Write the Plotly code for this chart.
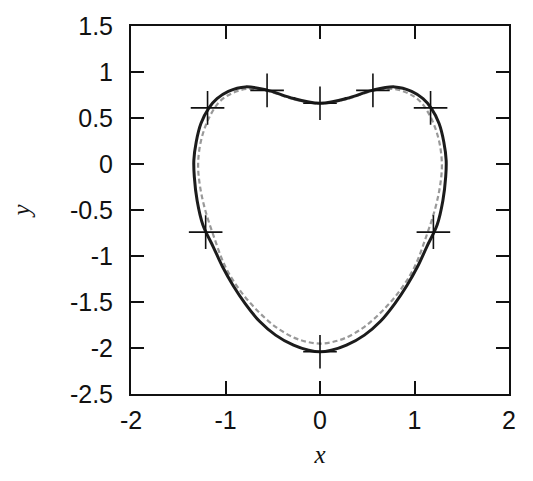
import plotly.graph_objects as go

# Closed contour (solid black), traced clockwise; the path wraps one point past
# its start so the spline joins smoothly at the top dimple
solid_x = [-0.28, 0.0, 0.28, 0.56, 0.79, 0.97, 1.09, 1.175, 1.26, 1.31, 1.335, 1.33, 1.30,
           1.24, 1.13, 1.03, 0.92, 0.79, 0.64, 0.47, 0.28, 0.12, 0.0,
           -0.12, -0.28, -0.47, -0.64, -0.79, -0.92, -1.03, -1.13, -1.24, -1.30, -1.33,
           -1.335, -1.31, -1.26, -1.175, -1.09, -0.97, -0.79, -0.56, -0.28, 0.0, 0.28]
solid_y = [0.712, 0.66, 0.712, 0.803, 0.838, 0.79, 0.71, 0.61, 0.44, 0.24, 0.04, -0.14, -0.40,
           -0.66, -0.90, -1.12, -1.32, -1.52, -1.71, -1.86, -1.97, -2.025, -2.042,
           -2.025, -1.97, -1.86, -1.71, -1.52, -1.32, -1.12, -0.90, -0.66, -0.40, -0.14,
           0.04, 0.24, 0.44, 0.61, 0.71, 0.79, 0.838, 0.803, 0.712, 0.66, 0.712]

# Second contour (grey dashed), slightly inside the first
dash_x = [-0.28, 0.0, 0.28, 0.56, 0.78, 0.94, 1.06, 1.15, 1.22, 1.27, 1.29, 1.27, 1.22, 1.12,
          1.0, 0.85, 0.67, 0.47, 0.27, 0.13, 0.0, -0.13, -0.27, -0.47, -0.67, -0.85,
          -1.0, -1.12, -1.22, -1.27, -1.29, -1.27, -1.22, -1.15, -1.06, -0.94, -0.78,
          -0.56, -0.28, 0.0, 0.28]
dash_y = [0.705, 0.655, 0.705, 0.795, 0.815, 0.765, 0.68, 0.55, 0.39, 0.20, -0.02, -0.24, -0.48, -0.80,
          -1.12, -1.37, -1.586, -1.77, -1.89, -1.935, -1.952, -1.935, -1.89, -1.77, -1.586, -1.37,
          -1.12, -0.80, -0.48, -0.24, -0.02, 0.20, 0.39, 0.55, 0.68, 0.765, 0.815,
          0.795, 0.705, 0.655, 0.705]

# Marked points on the contour
cross_x = [-1.19, -0.56, 0.0, 0.56, 1.17, 1.2, 0.0, -1.21]
cross_y = [0.61, 0.80, 0.66, 0.80, 0.61, -0.74, -2.04, -0.74]

x_ticks = [-2, -1, 0, 1, 2]
x_tick_text = ["-2", "-1", "0", "1", "2"]
y_ticks = [-2.5, -2, -1.5, -1, -0.5, 0, 0.5, 1, 1.5]
y_tick_text = ["-2.5", "-2", "-1.5", "-1", "-0.5", "0", "0.5", "1", "1.5"]

fig = go.Figure()
fig.add_trace(go.Scatter(x=dash_x, y=dash_y, mode="lines",
                         line=dict(color="#999999", width=2.2, dash="5px,3px",
                                   shape="spline", smoothing=1.0),
                         hoverinfo="skip"))
fig.add_trace(go.Scatter(x=solid_x, y=solid_y, mode="lines",
                         line=dict(color="#1c1c1c", width=3, shape="spline", smoothing=1.0),
                         hoverinfo="skip"))
fig.add_trace(go.Scatter(x=cross_x, y=cross_y, mode="markers",
                         marker=dict(symbol="cross-thin", size=24, color="#111",
                                     line=dict(color="#111", width=1.6)),
                         hoverinfo="skip"))

tick_font = dict(family="Liberation Sans, Arial, sans-serif", size=25, color="#111")
title_font = dict(family="Liberation Serif, Times New Roman, serif", size=25,
                  color="#111", style="italic")

axis_common = dict(showline=True, linecolor="#111", linewidth=2, mirror="ticks",
                   ticks="inside", ticklen=13, tickwidth=2, tickcolor="#111",
                   showgrid=False, zeroline=False, tickfont=tick_font,
                   ticklabeloverflow="allow")

fig.update_layout(
    width=533, height=481,
    margin=dict(l=131, r=24, t=12, b=87),
    paper_bgcolor="white", plot_bgcolor="white",
    showlegend=False,
    xaxis=dict(range=[-2, 2], tickvals=x_ticks, ticktext=x_tick_text,
               ticklabelstandoff=3,
               title=dict(text="x", font=title_font, standoff=12), **axis_common),
    yaxis=dict(range=[-2.5, 1.5], tickvals=y_ticks, ticktext=y_tick_text,
               ticklabelstandoff=11,
               title=dict(text="y", font=title_font, standoff=32), **axis_common),
)

fig.write_html("out.html")
